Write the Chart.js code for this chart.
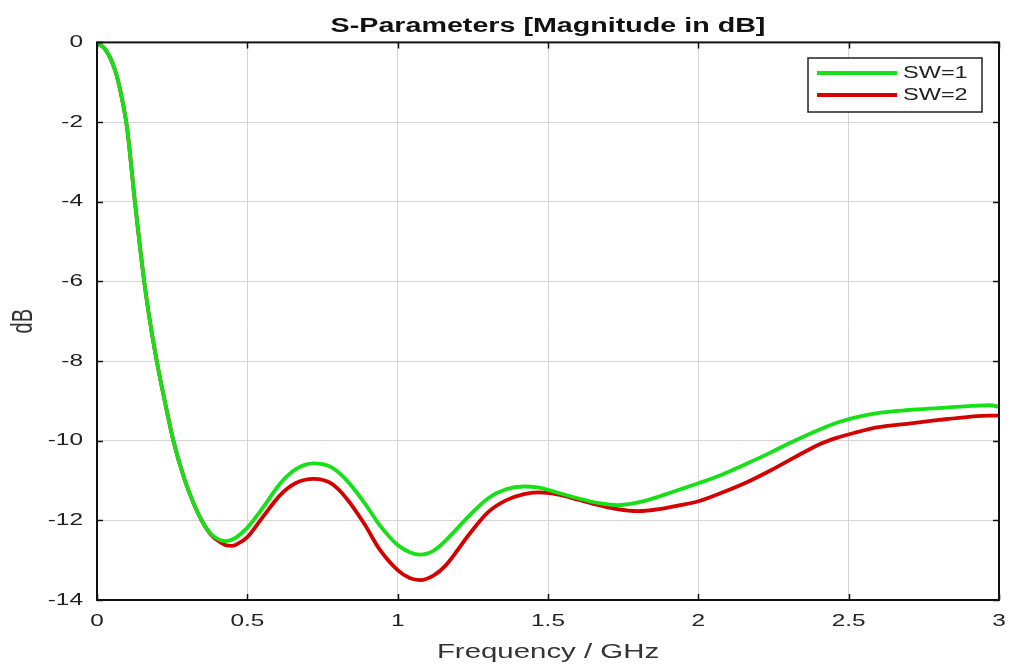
<!DOCTYPE html>
<html>
<head>
<meta charset="utf-8">
<script src="https://cdn.jsdelivr.net/npm/chart.js@4.4.0/dist/chart.umd.min.js"></script>
<style>
html,body{margin:0;padding:0;background:#fff;}
#wrap{width:1010px;height:664px;}
</style>
</head>
<body>
<div id="wrap"><canvas id="c" width="1010" height="664"></canvas></div>
<script>
// ---- data ----
const freqGHz = [0, 0.03, 0.06, 0.08, 0.1, 0.126, 0.156, 0.176, 0.2, 0.228, 0.254, 0.29, 0.32, 0.35, 0.38,
  0.41, 0.43, 0.45, 0.47, 0.5, 0.55, 0.61, 0.66, 0.72, 0.78, 0.83, 0.89, 0.94, 1.0, 1.04, 1.075, 1.12, 1.16,
  1.24, 1.3, 1.36, 1.42, 1.47, 1.53, 1.6, 1.67, 1.73, 1.8, 1.87, 1.94, 2.0, 2.08, 2.16, 2.24, 2.32,
  2.4, 2.46, 2.52, 2.6, 2.7, 2.8, 2.9, 2.97, 3.0];
const sw1 = [0, -0.2, -0.7, -1.3, -2.15, -4.0, -5.95, -7.0, -8.05, -9.1, -10.0, -10.95, -11.55, -12.03, -12.35,
  -12.5, -12.52, -12.48, -12.39, -12.18, -11.7, -11.07, -10.72, -10.57, -10.67, -10.99, -11.57, -12.12, -12.62, -12.8, -12.86, -12.76, -12.5,
  -11.87, -11.45, -11.22, -11.15, -11.18, -11.3, -11.45, -11.57, -11.62, -11.55, -11.4, -11.22, -11.07, -10.85, -10.58, -10.3, -10.0,
  -9.73, -9.55, -9.42, -9.3, -9.23, -9.18, -9.13, -9.11, -9.15];
const sw2 = [0, -0.2, -0.7, -1.3, -2.15, -4.0, -5.95, -7.0, -8.05, -9.1, -10.0, -10.95, -11.55, -12.03, -12.37,
  -12.55, -12.63, -12.64, -12.58, -12.42, -11.93, -11.36, -11.07, -10.96, -11.08, -11.45, -12.1, -12.73, -13.25, -13.45, -13.5, -13.38, -13.13,
  -12.33, -11.8, -11.5, -11.34, -11.3, -11.35, -11.48, -11.62, -11.72, -11.77, -11.72, -11.62, -11.52, -11.3, -11.05, -10.75, -10.42,
  -10.1, -9.93, -9.8, -9.66, -9.57, -9.48, -9.4, -9.37, -9.37];
const seriesLabels = ['SW=1', 'SW=2'];
const seriesColors = ['#16e016', '#d40000'];
const xTicks = [0, 0.5, 1, 1.5, 2, 2.5, 3];
const yTicks = [0, -2, -4, -6, -8, -10, -12, -14];

const FONT = '"Liberation Sans", Arial, sans-serif';
const STRETCH = 1.47; // reference image text is horizontally widened

function pts(ys){ return freqGHz.map((f,i)=>({x:f, y:ys[i]})); }

const canvas = document.getElementById('c');
const cx = canvas.getContext('2d');
const origFill = CanvasRenderingContext2D.prototype.fillText;
cx.fillText = function(text, x, y, maxWidth){
  const T = this.getTransform();
  const p = T.transformPoint(new DOMPoint(x, y));
  this.save();
  const M = new DOMMatrix().translate(p.x, p.y).scale(STRETCH, 1).translate(-p.x, -p.y).multiply(T);
  this.setTransform(M);
  if (maxWidth === undefined) origFill.call(this, text, x, y);
  else origFill.call(this, text, x, y, maxWidth);
  this.restore();
};

const framePlugin = {
  id: 'frame',
  afterDraw(chart){
    const {ctx, chartArea:a, scales:{x, y}} = chart;
    ctx.save();
    ctx.strokeStyle = '#111';
    ctx.lineWidth = 1.5;
    const tl = 6;
    ctx.beginPath();
    xTicks.forEach(v=>{
      const px = Math.round(x.getPixelForValue(v))+0.5;
      ctx.moveTo(px, a.bottom); ctx.lineTo(px, a.bottom - tl);
      ctx.moveTo(px, a.top); ctx.lineTo(px, a.top + tl);
    });
    yTicks.forEach(v=>{
      const py = Math.round(y.getPixelForValue(v))+0.5;
      ctx.moveTo(a.left, py); ctx.lineTo(a.left + tl, py);
      ctx.moveTo(a.right, py); ctx.lineTo(a.right - tl, py);
    });
    ctx.stroke();
    ctx.lineWidth = 2;
    ctx.strokeStyle = '#111';
    ctx.strokeRect(a.left, a.top, a.right - a.left, a.bottom - a.top);

    // legend box
    const lx = 808, ly = 58, lw = 174, lh = 54;
    ctx.fillStyle = '#fff';
    ctx.fillRect(lx, ly, lw, lh);
    ctx.lineWidth = 1.5;
    ctx.strokeStyle = '#222';
    ctx.strokeRect(lx, ly, lw, lh);
    ctx.font = '16px ' + FONT;
    ctx.textBaseline = 'middle';
    ctx.textAlign = 'left';
    chart.data.datasets.forEach((ds, i)=>{
      const yy = ly + 15 + i*22;
      ctx.strokeStyle = ds.borderColor;
      ctx.lineWidth = 4;
      ctx.beginPath(); ctx.moveTo(lx + 9, yy); ctx.lineTo(lx + 89, yy); ctx.stroke();
      ctx.fillStyle = '#222';
      ctx.fillText(ds.label, lx + 95, yy + 1);
    });
    ctx.restore();
  }
};

new Chart(canvas, {
  type: 'line',
  data: {
    datasets: [
      {label: seriesLabels[0], data: pts(sw1), borderColor: seriesColors[0], borderWidth: 3.8, pointRadius: 0, cubicInterpolationMode: 'monotone', fill: false},
      {label: seriesLabels[1], data: pts(sw2), borderColor: seriesColors[1], borderWidth: 3.8, pointRadius: 0, cubicInterpolationMode: 'monotone', fill: false}
    ]
  },
  options: {
    responsive: false,
    animation: false,
    layout: {padding: {left: 0, right: 11, top: 0, bottom: 0}},
    plugins: {
      legend: {display: false},
      tooltip: {enabled: false},
      title: {
        display: true,
        fullSize: false,
        text: 'S-Parameters [Magnitude in dB]',
        color: '#111',
        font: {family: FONT, size: 19.5, weight: 'bold'},
        padding: {top: 15, bottom: 4}
      }
    },
    scales: {
      x: {
        type: 'linear', min: 0, max: 3,
        afterBuildTicks(s){ s.ticks = xTicks.map(v=>({value:v})); },
        afterFit(s){ s.height = 64; s.paddingLeft = 0; s.paddingRight = 0; },
        grid: {color: '#d4d4d4', lineWidth: 1, drawTicks: false},
        border: {display: false},
        ticks: {color: '#222', font: {family: FONT, size: 16.6}, padding: 11, maxRotation: 0,
          callback: v => String(v)},
        title: {display: true, text: 'Frequency / GHz', color: '#333', font: {family: FONT, size: 20}, padding: {top: 0, bottom: 0}}
      },
      y: {
        type: 'linear', min: -14, max: 0,
        afterBuildTicks(s){ s.ticks = yTicks.map(v=>({value:v})); },
        afterFit(s){ s.width = 97; s.paddingTop = 0; s.paddingBottom = 0; },
        grid: {color: '#d4d4d4', lineWidth: 1, drawTicks: false},
        border: {display: false},
        ticks: {color: '#222', font: {family: FONT, size: 16.6}, padding: 14,
          callback: v => String(v)},
        title: {display: true, text: 'dB', color: '#333', font: {family: FONT, size: 20}, padding: {top: 12, bottom: 0}}
      }
    }
  },
  plugins: [framePlugin]
});
</script>
</body>
</html>
